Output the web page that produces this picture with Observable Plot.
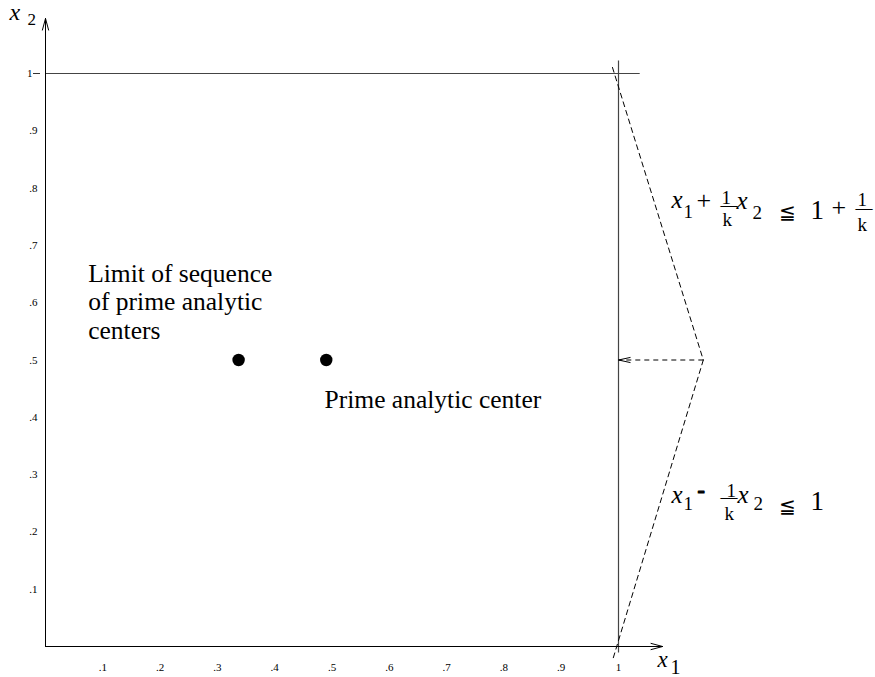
<!DOCTYPE html>
<html>
<head>
<meta charset="utf-8">
<script src="https://cdn.jsdelivr.net/npm/d3@7"></script>
<script src="https://cdn.jsdelivr.net/npm/@observablehq/plot@0.6"></script>
<style>
  html, body { margin: 0; padding: 0; background: #fff; }
  #chart { width: 875px; height: 677px; }
  #chart svg text { font-family: "Liberation Serif", "Times New Roman", serif; }
  #chart svg text.math { font-family: "DejaVu Sans", sans-serif; }
</style>
</head>
<body>
<div id="chart"></div>
<script>
// ---------- data ----------
const xTicks = [0.1, 0.2, 0.3, 0.4, 0.5, 0.6, 0.7, 0.8, 0.9, 1];
const yTicks = [0.1, 0.2, 0.3, 0.4, 0.5, 0.6, 0.7, 0.8, 0.9];
const yTopTick = [1];
const tickLabel = d => (d === 1 ? "1" : String(d).replace(/^0/, ""));

// analytic centers (x1, x2)
const centers = [
  {x: 0.337, y: 0.5, name: "Limit of sequence of prime analytic centers"},
  {x: 0.49, y: 0.5, name: "Prime analytic center"}
];

// coordinate axes (origin to arrow tip)
const axesArrows = [
  {x1: 0, y1: 0, x2: 1.077, y2: 0},
  {x1: 0, y1: 0, x2: 0, y2: 1.096}
];

// box boundaries x1 = 1 and x2 = 1
const boundaries = [
  {x1: 1, y1: -0.0105, x2: 1, y2: 1.0227},
  {x1: 0, y1: 1, x2: 1.037, y2: 1}
];

// cutting planes
const cutUpper = [{x: 0.9895, y: 1.0105}, {x: 1.148, y: 0.5}];   // x1 + (1/k) x2 <= 1 + 1/k
const cutLower = [{x: 1.148, y: 0.5}, {x: 0.9895, y: -0.0244}];  // x1 - (1/k) x2 <= 1
const pointer = [{x1: 1.148, y1: 0.5, x2: 1, y2: 0.5}];

// text annotations (anchor positions in data coordinates)
const limitLabel = [{x: 0.0745, y: 0.5375, text: "Limit of sequence\nof prime analytic\ncenters"}];
const centerLabel = [{x: 0.487, y: 0.4154, text: "Prime analytic center"}];
const eq1Anchor = [{x: 1.0942, y: 0.7661}];
const eq2Anchor = [{x: 1.0942, y: 0.2496}];
const eq1Tokens = ["x", "1", "+", "1", "\u2014", "k", "x", "2", "\u2266", "1", "+", "1", "\u2014", "k"];
const eq2Tokens = ["x", "1", "-", "1", "\u2014", "k", "x", "2", "\u2266", "1"];
const x2LabelAnchor = [{x: -0.0628, y: 1.0925}];
const x1LabelAnchor = [{x: 1.068, y: -0.0366}];
const x2Tokens = ["x", "2"];
const x1Tokens = ["x", "1"];

// ---------- layout ----------
const SERIF = "Liberation Serif";
// [dx, dy, fontSize, kind]  kind: i = italic, r = roman, m = math symbol, b = bold dash
const eq1Layout = [
  [-1, 0, 25, "i"], [11, 10, 19, "r"], [24, 1, 26, "r"],
  [49, -4, 19, "r"], [48, 2, 17, "r"], [50, 18, 19, "r"],
  [64, 1, 25, "i"], [80, 11, 19, "r"], [107, 11, 20, "m"],
  [138, 11, 27, "r"], [159, 8, 26, "r"],
  [185, -2, 19, "r"], [183, 5, 17, "r"], [185, 23, 19, "r"]
];
const eq2Layout = [
  [-1, 0, 25, "i"], [11, 7, 19, "r"], [25, -6, 22, "b"],
  [54, -6, 19, "r"], [48, -1, 17, "r"], [52, 17, 19, "r"],
  [65, 0, 25, "i"], [81, 7, 19, "r"], [107, 10, 20, "m"],
  [138, 7, 27, "r"]
];
const x2Layout = [[0, 0, 24, "i"], [18, 5, 17, "r"]];
const x1Layout = [[0, 0, 23, "i"], [13, 7, 20, "r"]];

function pieces(anchor, tokens, layout) {
  return tokens.map((t, i) => {
    const [dx, dy, fs, kind] = layout[i];
    return Plot.text(anchor, {
      x: "x", y: "y", text: [t], dx, dy,
      fontSize: fs,
      fontStyle: kind === "i" ? "italic" : "normal",
      fontWeight: kind === "b" ? "bold" : "normal",
      className: kind === "m" ? "math" : undefined,
      stroke: kind === "b" ? "black" : null,
      strokeWidth: kind === "b" ? 1.2 : null,
      textAnchor: "start", lineAnchor: "bottom", fill: "black"
    });
  });
}

const chevron = {
  draw(ctx) {
    ctx.moveTo(12, -2.6);
    ctx.lineTo(0, 0);
    ctx.lineTo(12, 2.6);
  }
};

const chart = Plot.plot({
  width: 875,
  height: 677,
  style: {fontFamily: SERIF, fontSize: "10px", background: "white", color: "black"},
  x: {domain: [0, 1], range: [45, 618], label: null},
  y: {domain: [0, 1], range: [646, 73], label: null},
  marks: [
    Plot.axisX(xTicks, {tickSize: 0, tickPadding: 16, tickFormat: tickLabel, label: null, fontSize: 11, fill: "black"}),
    Plot.axisY(yTicks, {tickSize: 0, tickPadding: 3, tickFormat: tickLabel, label: null, fontSize: 11, fill: "black"}),
    Plot.axisY(yTopTick, {tickSize: 7, tickPadding: 1, tickFormat: tickLabel, label: null, fontSize: 11, fill: "black", stroke: "#333"}),
    Plot.link(boundaries, {x1: "x1", y1: "y1", x2: "x2", y2: "y2", stroke: "#444", strokeWidth: 1.2}),
    Plot.arrow(axesArrows, {x1: "x1", y1: "y1", x2: "x2", y2: "y2", stroke: "black", strokeWidth: 1, headLength: 18, headAngle: 30}),
    Plot.line(cutUpper, {x: "x", y: "y", stroke: "black", strokeWidth: 1, strokeDasharray: "5,4"}),
    Plot.line(cutLower, {x: "x", y: "y", stroke: "black", strokeWidth: 1, strokeDasharray: "5,4"}),
    Plot.link(pointer, {x1: "x1", y1: "y1", x2: "x2", y2: "y2", stroke: "black", strokeWidth: 1, strokeDasharray: "5,4"}),
    Plot.dot(pointer, {x: "x2", y: "y2", symbol: chevron, stroke: "black", fill: "none", strokeWidth: 1}),
    Plot.dot(centers, {x: "x", y: "y", r: 6.2, fill: "black", stroke: null}),
    Plot.text(limitLabel, {x: "x", y: "y", text: "text", fontSize: 25.5, lineHeight: 1.1, textAnchor: "start", lineAnchor: "bottom", fill: "black"}),
    Plot.text(centerLabel, {x: "x", y: "y", text: "text", fontSize: 25.5, textAnchor: "start", lineAnchor: "bottom", fill: "black"}),
    ...pieces(eq1Anchor, eq1Tokens, eq1Layout),
    ...pieces(eq2Anchor, eq2Tokens, eq2Layout),
    ...pieces(x2LabelAnchor, x2Tokens, x2Layout),
    ...pieces(x1LabelAnchor, x1Tokens, x1Layout)
  ]
});
document.getElementById("chart").appendChild(chart);
</script>
</body>
</html>
